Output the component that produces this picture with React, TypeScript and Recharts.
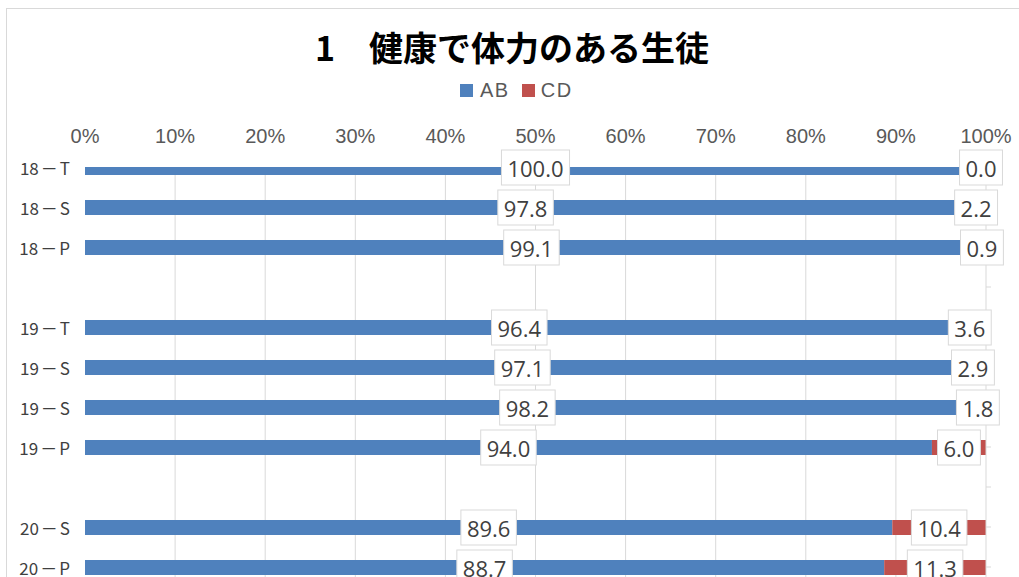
import React from "react";
import * as Recharts from "recharts";
import { BarChart, Bar, XAxis, YAxis, CartesianGrid, LabelList } from "recharts";

// rows top to bottom; empty names are the spacer rows between years
const categories = ["18－T", "18－S", "18－P", "", "19－T", "19－S", "19－S", "19－P", "", "20－S", "20－P"];
const abValues = [100.0, 97.8, 99.1, null, 96.4, 97.1, 98.2, 94.0, null, 89.6, 88.7];
const cdValues = [0.0, 2.2, 0.9, null, 3.6, 2.9, 1.8, 6.0, null, 10.4, 11.3];
const percentTicks = [0, 10, 20, 30, 40, 50, 60, 70, 80, 90, 100];

const data = categories.map((name, i) => ({ name, AB: abValues[i], CD: cdValues[i] }));

const BLUE = "#4F81BD";
const RED = "#C0504D";
const GRID = "#d9d9d9";
const LABEL_FONT = "'Open Sans', 'Liberation Sans', sans-serif";
const JP_FONT = "'Noto Sans CJK JP', sans-serif";
const PLOT_TOP = 158; // margin.top + x axis height, used only if the hook is missing

const usePlot: any = (Recharts as any).usePlotArea;

function labelBox(cx: number, cy: number, value: number) {
  const text = Number(value).toFixed(1);
  const w = (text.length - 1) * 12.6 + 5.7 + 12;
  const h = 35;
  return (
    <g>
      <rect x={cx - w / 2} y={cy - h / 2} width={w} height={h} fill="#ffffff" stroke={GRID} strokeWidth={1} />
      <text x={cx} y={cy} textAnchor="middle" dominantBaseline="central" fontSize={22} fill="#404040" fontFamily={LABEL_FONT}>
        {text}
      </text>
    </g>
  );
}

function getBox(props: any) {
  const vb = props.viewBox && props.viewBox.x != null ? props.viewBox : props;
  return vb;
}

// AB label; also carries the CD label when the CD segment has no width
function AbLabel(props: any) {
  const { value, index } = props;
  const vb = getBox(props);
  if (value == null || vb == null || vb.x == null) return null;
  const cd = index != null ? cdValues[index] : props.payload?.CD;
  const pxPerUnit = value ? vb.width / value : 0;
  return (
    <g>
      {labelBox(vb.x + vb.width / 2, vb.y + vb.height / 2, value)}
      {cd === 0 && labelBox(vb.x + vb.width + (cd * pxPerUnit) / 2 - 5, vb.y + vb.height / 2, cd)}
    </g>
  );
}

function CdLabel(props: any) {
  const { value } = props;
  const vb = getBox(props);
  if (value == null || value === 0 || vb == null || vb.x == null) return null;
  return labelBox(vb.x + vb.width / 2, vb.y + vb.height / 2, value);
}

// bar rectangle cut at the top edge of the plot area, as in the original
function ClippedBar(props: any) {
  const plot = usePlot ? usePlot() : null;
  const top = plot && plot.y != null ? plot.y : PLOT_TOP;
  const { x, y, width, height, fill } = props;
  if (width == null || width <= 0) return null;
  const y0 = Math.max(y, top);
  const h = y + height - y0;
  if (h <= 0) return null;
  return <rect x={x} y={y0} width={width} height={h} fill={fill} />;
}

function CategoryTick({ x, y, payload }: any) {
  const parts = String(payload.value).split("－");
  return (
    <text x={x} y={y} textAnchor="end" dominantBaseline="central" fontSize={17} fill="#404040" fontFamily={JP_FONT}>
      {parts.length === 2 ? (
        <>
          <tspan>{parts[0]}</tspan>
          <tspan dx={2}>－</tspan>
          <tspan dx={2}>{parts[1]}</tspan>
        </>
      ) : (
        payload.value
      )}
    </text>
  );
}

const EmptyTick = () => <g />;

const innerTicks = percentTicks.filter((t) => t > 0 && t < 100);

function gridX({ xAxis, offset }: any) {
  const s = xAxis?.scale;
  if (typeof s === "function") return innerTicks.map((t) => s(t));
  return innerTicks.map((t) => offset.left + (offset.width * t) / 100);
}

export default function App() {
  return (
    <div
      style={{
        position: "absolute",
        left: 6,
        top: 8,
        width: 1012,
        height: 568,
        overflow: "hidden",
        borderLeft: `1px solid ${GRID}`,
        borderTop: `1px solid ${GRID}`,
        background: "#fff",
      }}
    >
      <div
        style={{
          position: "absolute",
          left: 0,
          top: 18,
          width: 1010,
          textAlign: "center",
          fontFamily: JP_FONT,
          fontWeight: 700,
          fontSize: 34,
          lineHeight: "40px",
          color: "#000",
          whiteSpace: "nowrap",
        }}
      >
        1　健康で体力のある生徒
      </div>
      <div
        style={{
          position: "absolute",
          left: 453,
          top: 69,
          display: "flex",
          alignItems: "center",
          fontFamily: "'Liberation Sans', Arial, sans-serif",
          fontSize: 20,
          letterSpacing: 1.5,
          color: "#595959",
          lineHeight: "24px",
          whiteSpace: "nowrap",
        }}
      >
        <span style={{ width: 13, height: 13, background: BLUE, display: "inline-block", marginRight: 7 }} />
        <span style={{ marginRight: 12 }}>AB</span>
        <span style={{ width: 13, height: 13, background: RED, display: "inline-block", marginRight: 6 }} />
        <span>CD</span>
      </div>
      <BarChart
        width={1012}
        height={588}
        data={data}
        layout="vertical"
        barSize={15}
        margin={{ top: 118, right: 3, bottom: 10, left: 0 }}
      >
        <CartesianGrid horizontal={false} stroke={GRID} verticalCoordinatesGenerator={gridX} />
        <XAxis
          type="number"
          orientation="top"
          domain={[0, 100]}
          ticks={percentTicks}
          tickFormatter={(v: number) => `${v}%`}
          axisLine={false}
          tickLine={false}
          tickSize={0}
          tickMargin={24}
          height={40}
          tick={{ fill: "#595959", fontSize: 20, fontFamily: "'Liberation Sans', Arial, sans-serif" }}
          interval={0}
        />
        <YAxis
          type="category"
          dataKey="name"
          width={78}
          axisLine={false}
          tickLine={false}
          tickSize={0}
          tickMargin={15}
          padding={{ top: -20, bottom: 0 }}
          tick={<CategoryTick />}
          interval={0}
        />
        <YAxis
          yAxisId="right"
          type="category"
          dataKey="name"
          orientation="right"
          width={30}
          axisLine={{ stroke: GRID }}
          tickLine={{ stroke: GRID }}
          tickSize={5}
          padding={{ top: -20, bottom: 0 }}
          tick={<EmptyTick />}
          interval={0}
        />
        <Bar dataKey="AB" stackId="s" fill={BLUE} isAnimationActive={false} shape={(p: any) => <ClippedBar {...p} />}>
          <LabelList dataKey="AB" content={<AbLabel />} />
        </Bar>
        <Bar dataKey="CD" stackId="s" fill={RED} isAnimationActive={false} shape={(p: any) => <ClippedBar {...p} />}>
          <LabelList dataKey="CD" content={<CdLabel />} />
        </Bar>
      </BarChart>
    </div>
  );
}
